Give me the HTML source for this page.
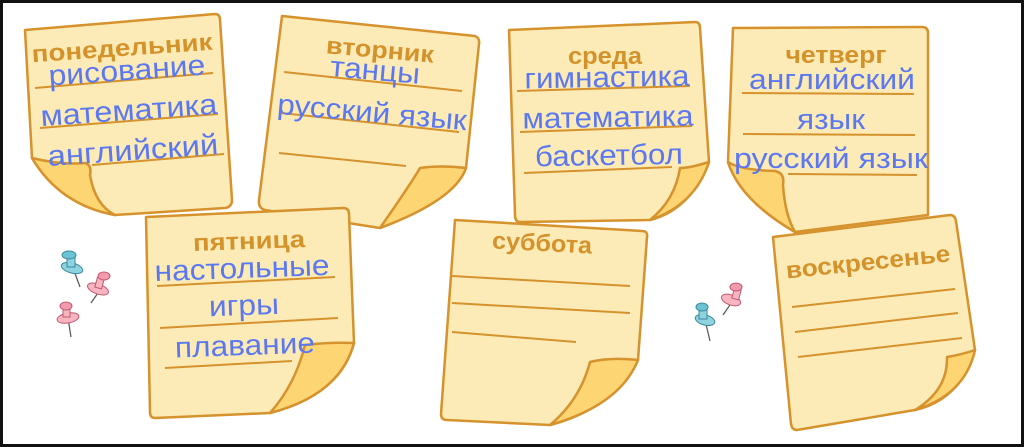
<!DOCTYPE html>
<html><head><meta charset="utf-8"><style>
html,body{margin:0;padding:0;background:#fff}
svg{display:block}
.n{fill:#fcebb6;stroke:#d6922c;stroke-width:2.5;stroke-linejoin:round}
.c{fill:#fdd673;stroke:#d6922c;stroke-width:2.5;stroke-linejoin:round}
.l{stroke:#d6922c;stroke-width:2;fill:none}
.t{font-family:"Liberation Sans",sans-serif;font-weight:bold;font-size:24px;fill:#d4922a;text-anchor:middle}
.b{font-family:"Liberation Sans",sans-serif;font-size:29px;fill:#5b78f0;text-anchor:middle}
</style></head><body>
<svg width="1024" height="447" viewBox="0 0 1024 447" xmlns="http://www.w3.org/2000/svg">
<rect x="1.5" y="1.5" width="1021" height="444" fill="#fff" stroke="#111" stroke-width="3"/>

<!-- Mon -->
<path class="n" d="M25,30 L215,14 Q220,14 220,20 L232,200 Q232,207 225,208 L115,215 Q60,205 32,158 Z"/>
<path class="c" d="M32,158 Q60,165 85,163 Q92,165 90,175 Q95,205 115,215 Q60,205 32,158 Z"/>
<path class="l" d="M35,88 L213,73 M40,128 L218,114 M92,165 L224,154"/>
<text class="t" x="122" y="56" textLength="181" lengthAdjust="spacingAndGlyphs" transform="rotate(-4 122 48)">понедельник</text>
<text class="b" x="127" y="80" textLength="157" lengthAdjust="spacingAndGlyphs" transform="rotate(-4 127 72)">рисование</text>
<text class="b" x="129" y="120" textLength="177" lengthAdjust="spacingAndGlyphs" transform="rotate(-4 129 112)">математика</text>
<text class="b" x="133" y="160" textLength="171" lengthAdjust="spacingAndGlyphs" transform="rotate(-4 133 152)">английский</text>

<!-- Tue -->
<path class="n" d="M282,16 L475,36 Q480,38 479,44 L466,168 Q455,200 380,228 L265,210 Q258,208 259,200 Z"/>
<path class="c" d="M466,168 Q440,165 420,168 Q410,185 380,228 Q455,200 466,168 Z"/>
<path class="l" d="M284,72 L462,91 M281,113 L459,132 M279,153 L406,166"/>
<text class="t" x="380" y="58" textLength="108" lengthAdjust="spacingAndGlyphs" transform="rotate(5 380 50)">вторник</text>
<text class="b" x="375" y="80" textLength="90" lengthAdjust="spacingAndGlyphs" transform="rotate(5 375 72)">танцы</text>
<text class="b" x="372" y="122" textLength="190" lengthAdjust="spacingAndGlyphs" transform="rotate(5 372 114)">русский язык</text>

<!-- Wed -->
<path class="n" d="M509,30 L695,22 Q700,22 700,28 L709,162 Q690,210 650,220 L520,222 Q515,222 515,215 Z"/>
<path class="c" d="M709,162 Q690,168 680,168 Q675,200 650,220 Q695,205 709,162 Z"/>
<path class="l" d="M517,91 L690,86 M520,132 L692,126 M524,173 L672,167"/>
<text class="t" x="605" y="64" textLength="74" lengthAdjust="spacingAndGlyphs">среда</text>
<text class="b" x="607" y="87" textLength="165" lengthAdjust="spacingAndGlyphs" transform="rotate(-1 607 80)">гимнастика</text>
<text class="b" x="608" y="127" textLength="171" lengthAdjust="spacingAndGlyphs" transform="rotate(-1 608 120)">математика</text>
<text class="b" x="609" y="165" textLength="148" lengthAdjust="spacingAndGlyphs" transform="rotate(-1 609 160)">баскетбол</text>

<!-- Thu -->
<path class="n" d="M733,28 L922,27 Q928,27 928,33 L928,215 L795,232 Q740,200 728,162 Z"/>
<path class="c" d="M728,162 Q740,170 775,171 Q785,173 783,185 Q785,215 795,232 Q740,200 728,162 Z"/>
<path class="l" d="M742,93 L914,94 M743,134 L915,135 M788,174 L917,175"/>
<text class="t" x="836" y="63" textLength="101" lengthAdjust="spacingAndGlyphs">четверг</text>
<text class="b" x="832" y="89" textLength="166" lengthAdjust="spacingAndGlyphs">английский</text>
<text class="b" x="831" y="129" textLength="68" lengthAdjust="spacingAndGlyphs">язык</text>
<text class="b" x="831" y="168" textLength="194" lengthAdjust="spacingAndGlyphs">русский язык</text>

<!-- Fri -->
<path class="n" d="M146,217 L343,208 Q349,208 349,214 L354,343 Q340,395 270,413 L155,418 Q150,418 150,412 Z"/>
<path class="c" d="M354,343 Q330,342 305,345 Q295,385 270,413 Q340,395 354,343 Z"/>
<path class="l" d="M157,286 L335,277 M160,328 L338,318 M165,368 L292,361"/>
<text class="t" x="249" y="249" textLength="112" lengthAdjust="spacingAndGlyphs" transform="rotate(-2 249 242)">пятница</text>
<text class="b" x="242" y="278" textLength="175" lengthAdjust="spacingAndGlyphs" transform="rotate(-2 242 270)">настольные</text>
<text class="b" x="244" y="315" textLength="70" lengthAdjust="spacingAndGlyphs" transform="rotate(-2 244 308)">игры</text>
<text class="b" x="245" y="355" textLength="140" lengthAdjust="spacingAndGlyphs" transform="rotate(-2 245 348)">плавание</text>

<!-- Sat -->
<path class="n" d="M455,220 L642,231 Q648,231 647,237 L638,360 Q610,410 550,425 L447,420 Q441,420 441,414 Z"/>
<path class="c" d="M638,360 Q610,357 590,362 Q580,400 550,425 Q620,405 638,360 Z"/>
<path class="l" d="M452,276 L630,286 M452,303 L630,313 M452,332 L576,342"/>
<text class="t" x="542" y="251" textLength="100" lengthAdjust="spacingAndGlyphs" transform="rotate(3 542 244)">суббота</text>

<!-- Sun -->
<path class="n" d="M773,237 L950,215 Q955,215 956,221 L975,350 Q960,400 915,410 L797,430 Q792,430 791,424 Z"/>
<path class="c" d="M975,350 Q960,355 947,357 Q948,390 915,410 Q965,395 975,350 Z"/>
<path class="l" d="M792,307 L955,289 M795,332 L958,313 M798,357 L962,338"/>
<text class="t" x="868" y="270" textLength="165" lengthAdjust="spacingAndGlyphs" transform="rotate(-6 868 262)">воскресенье</text>

<!-- pins -->
<g stroke="#555" stroke-width="1.2">
<line x1="73" y1="268" x2="80" y2="287"/>
<line x1="100" y1="290" x2="91" y2="303"/>
<line x1="68" y1="318" x2="71" y2="337"/>
<line x1="705" y1="320" x2="710" y2="341"/>
<line x1="732" y1="302" x2="723" y2="315"/>
</g>
<g stroke="#3a8a9a" stroke-width="1">
<ellipse cx="72" cy="268" rx="11" ry="5" fill="#8fd3e0" transform="rotate(15 72 268)"/>
<rect x="67" y="257" width="8" height="10" fill="#8fd3e0"/>
<ellipse cx="69" cy="255" rx="7" ry="4" fill="#6cc3d4"/>
<ellipse cx="705" cy="320" rx="10" ry="5" fill="#8fd3e0" transform="rotate(15 705 320)"/>
<rect x="699" y="309" width="8" height="10" fill="#8fd3e0"/>
<ellipse cx="702" cy="307" rx="6" ry="4" fill="#6cc3d4"/>
</g>
<g stroke="#c05a70" stroke-width="1">
<ellipse cx="98" cy="289" rx="11" ry="5" fill="#f7b5c2" transform="rotate(20 98 289)"/>
<rect x="96" y="278" width="7" height="10" fill="#f7b5c2" transform="rotate(15 99 283)"/>
<ellipse cx="104" cy="276" rx="6" ry="4" fill="#f39aae"/>
<ellipse cx="68" cy="318" rx="11" ry="5" fill="#f7b5c2" transform="rotate(-10 68 318)"/>
<rect x="63" y="307" width="7" height="10" fill="#f7b5c2"/>
<ellipse cx="66" cy="306" rx="6" ry="4" fill="#f39aae"/>
<ellipse cx="731" cy="300" rx="10" ry="5" fill="#f7b5c2" transform="rotate(20 731 300)"/>
<rect x="733" y="289" width="7" height="10" fill="#f7b5c2" transform="rotate(15 736 294)"/>
<ellipse cx="736" cy="287" rx="6" ry="4" fill="#f39aae"/>
</g>
</svg>
</body></html>
